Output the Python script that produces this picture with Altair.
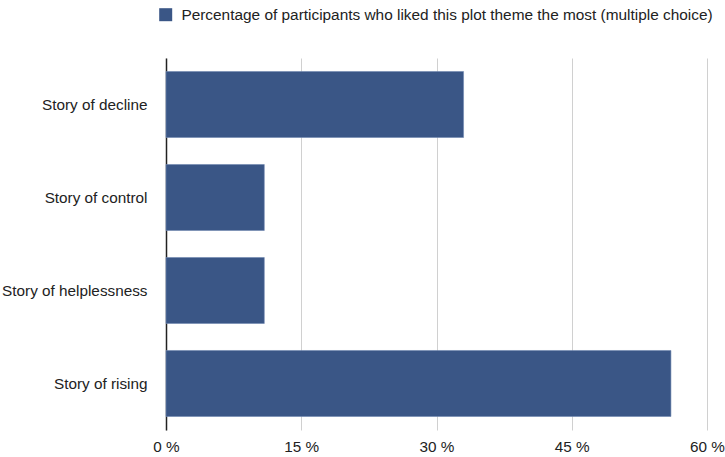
import altair as alt
import pandas as pd

categories = ["Story of decline", "Story of control", "Story of helplessness", "Story of rising"]
values = [33.0, 10.9, 10.9, 56.0]
series_name = "Percentage of participants who liked this plot theme the most (multiple choice)"
x_ticks = [0, 15, 30, 45, 60]

df = pd.DataFrame({"category": categories, "value": values, "series": [series_name] * len(categories)})

FONT = "Liberation Sans, Arial, Helvetica, sans-serif"

chart = alt.Chart(df).mark_bar(color="#3A5686", stroke="#6E86B0", strokeWidth=0.6).encode(
    y=alt.Y("category:N", sort=categories, title=None,
            scale=alt.Scale(paddingInner=0.29, paddingOuter=0.145),
            axis=alt.Axis(ticks=False, labelPadding=19, labelFontSize=15.3, labelColor="#222222",
                          labelFont=FONT, domainColor="#222222", domainWidth=1.5, grid=False,
                          labelLimit=300)),
    x=alt.X("value:Q", title=None, scale=alt.Scale(domain=[0, 60], nice=False),
            axis=alt.Axis(values=x_ticks, labelExpr="datum.value + ' %'", ticks=False, domain=False,
                          grid=True, gridColor="#d0d0d0", gridWidth=1, labelPadding=9,
                          labelFlush=False, labelFontSize=15.3, labelColor="#222222", labelFont=FONT)),
    color=alt.Color("series:N", scale=alt.Scale(range=["#3A5686"]),
                    legend=alt.Legend(title=None, orient="none", legendX=-8, legendY=-51,
                                      symbolType="square", symbolSize=169, symbolStrokeWidth=0,
                                      labelFontSize=15.4, labelColor="#222222", labelFont=FONT,
                                      labelOffset=8, labelLimit=700)),
).properties(
    width=541, height=372,
    padding={"left": 166, "top": 58, "right": 18, "bottom": 27},
    autosize=alt.AutoSizeParams(type="none"),
).configure_view(stroke=None)

chart.save("out.html", embed_options={"renderer": "svg", "actions": False})
